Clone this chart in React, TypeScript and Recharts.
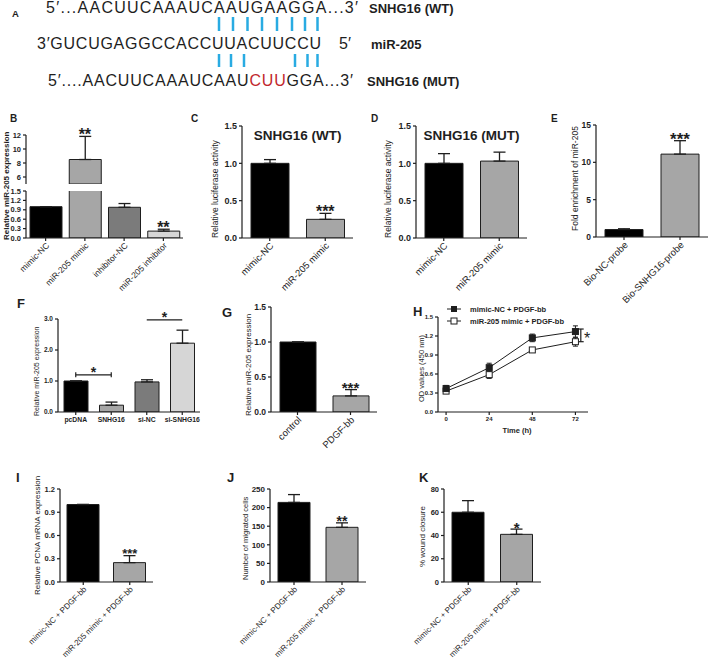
// Multi-panel figure: SNHG16 / miR-205 binding, luciferase, RNA pull-down, proliferation and migration
import React from 'react'
import {
  BarChart,
  Bar,
  Cell,
  ErrorBar,
  XAxis,
  YAxis,
  ReferenceDot,
  ReferenceLine,
  LineChart,
  Line,
} from 'recharts'

const FONT = '"Liberation Sans", Arial, Helvetica, sans-serif'
const INK = '#1e1e1e'
const BLACK = '#000000'
const GRAY = '#a6a6a6'
const DARK = '#7b7b7b'
const LIGHT = '#d6d6d6'
const BLUE = '#29abe2'
const RED = '#c1272d'

// ---- data ----
const bCats = ['mimic-NC', 'miR-205 mimic', 'inhibitor-NC', 'miR-205 inhibitor']
const bMean = [1.0, 8.5, 0.98, 0.22]
const bSem = [0, 3.3, 0.12, 0.06]
const bSig = ['', '**', '', '**']
const bBreak = 5 // upper segment of the broken axis starts here
const bUpperTicks = [6, 8, 10, 12]
const bLowerTicks = [0, 0.3, 0.6, 0.9, 1.2, 1.5]

const lucCats = ['mimic-NC', 'miR-205 mimic']
const cMean = [1.0, 0.25]
const cSem = [0.05, 0.08]
const cSig = ['', '***']
const dMean = [1.0, 1.03]
const dSem = [0.13, 0.12]
const lucTicks = [0, 0.5, 1.0, 1.5]

const eCats = ['Bio-NC-probe', 'Bio-SNHG16-probe']
const eMean = [1.0, 11.1]
const eSem = [0.1, 1.8]
const eSig = ['', '***']
const eTicks = [0, 5, 10, 15]

const fCats = ['pcDNA', 'SNHG16', 'si-NC', 'si-SNHG16']
const fMean = [1.0, 0.22, 0.97, 2.22]
const fSem = [0, 0.1, 0.07, 0.42]
const fPairs: [string, string, number][] = [
  ['pcDNA', 'SNHG16', 1.2],
  ['si-NC', 'si-SNHG16', 2.97],
]
const fTicks = [0, 1, 2, 3]

const gCats = ['control', 'PDGF-bb']
const gMean = [1.0, 0.23]
const gSem = [0, 0.09]
const gSig = ['', '***']
const gTicks = [0, 0.5, 1.0, 1.5]

const hHours = [0, 24, 48, 72]
const hNC = [0.37, 0.7, 1.17, 1.27]
const hNCErr = [0.05, 0.07, 0.06, 0.09]
const hMimic = [0.33, 0.59, 0.98, 1.11]
const hMimicErr = [0.03, 0.06, 0.01, 0.07]
const hYTicks = [0, 0.3, 0.6, 0.9, 1.2, 1.5]
const hBracket = { x: 75, low: 1.11, high: 1.31 }

const pdgfCats = ['mimic-NC + PDGF-bb', 'miR-205 mimic + PDGF-bb']
const iMean = [1.0, 0.25]
const iSem = [0, 0.09]
const iSig = ['', '***']
const iTicks = [0, 0.3, 0.6, 0.9, 1.2]
const jMean = [214, 147]
const jSem = [21, 12]
const jSig = ['', '**']
const jTicks = [0, 50, 100, 150, 200, 250]
const kMean = [60, 41]
const kSem = [10, 4.5]
const kSig = ['', '*']
const kTicks = [0, 20, 40, 60, 80]

type Plot = { x0: number; x1: number; yTop: number; yBot: number }
type Pad = { l: number; t: number; r: number; b: number }

function SlantTick(props: any) {
  const { x, y, payload, fs } = props
  const px = x + 2
  const py = y + 1
  return (
    <text
      x={px}
      y={py}
      textAnchor="end"
      dominantBaseline="central"
      transform={`rotate(-45 ${px} ${py})`}
      fontSize={fs}
      fontFamily={FONT}
      fill={INK}
    >
      {payload.value}
    </text>
  )
}

interface BarPanelProps {
  plot: Plot
  pad: Pad
  cats: string[]
  mean: (number | null)[]
  sem: (number | null)[]
  sig?: string[]
  fills: string[]
  domain: [number, number]
  ticks: number[]
  digits: number
  barSize: number
  tickFs: number
  catFs: number
  slant?: boolean
  hideX?: boolean
  starFs?: number
  children?: React.ReactNode
}

function BarPanel(p: BarPanelProps) {
  const { plot, pad } = p
  const left = plot.x0 - pad.l
  const top = plot.yTop - pad.t
  const width = pad.l + plot.x1 - plot.x0 + pad.r
  const height = pad.t + plot.yBot - plot.yTop + pad.b
  const sfs = p.starFs ?? 16
  const data = p.cats.map((name, i) => ({
    name,
    v: p.mean[i],
    e: p.sem[i] == null ? null : [0, p.sem[i]],
  }))
  const axisStyle = { stroke: INK, strokeWidth: 1.2 }
  return (
    <div style={{ position: 'absolute', left, top, width, height }}>
      <BarChart
        width={width}
        height={height}
        data={data}
        margin={{ top: pad.t, right: pad.r, left: 0, bottom: p.hideX ? pad.b : 0 }}
      >
        <XAxis
          dataKey="name"
          hide={p.hideX}
          height={pad.b}
          interval={0}
          tickSize={3}
          axisLine={axisStyle}
          tickLine={axisStyle}
          tick={
            p.slant
              ? (tp: any) => <SlantTick {...tp} fs={p.catFs} />
              : { fontSize: p.catFs, fill: INK, fontFamily: FONT, fontWeight: 700 }
          }
        />
        <YAxis
          type="number"
          width={pad.l}
          domain={p.domain}
          ticks={p.ticks}
          allowDataOverflow
          interval={0}
          tickSize={3}
          axisLine={axisStyle}
          tickLine={axisStyle}
          tickFormatter={(v: number) => v.toFixed(p.digits)}
          tick={{ fontSize: p.tickFs, fill: INK, fontFamily: FONT, fontWeight: 700 }}
        />
        <Bar dataKey="v" barSize={p.barSize} isAnimationActive={false} stroke={INK} strokeWidth={1}>
          {p.cats.map((c, i) => (
            <Cell key={c} fill={p.fills[i]} />
          ))}
          <ErrorBar dataKey="e" direction="y" width={6} stroke={INK} strokeWidth={1.3} />
        </Bar>
        {(p.sig ?? []).map((s, i) =>
          s ? (
            <ReferenceDot
              key={'sig' + i}
              x={p.cats[i]}
              y={(p.mean[i] ?? 0) + (p.sem[i] ?? 0)}
              r={0}
              ifOverflow="visible"
              shape={(d: any) => (
                <text
                  x={d.cx}
                  y={d.cy - 5 + 0.56 * sfs}
                  textAnchor="middle"
                  fontSize={sfs}
                  fontWeight={700}
                  fontFamily={FONT}
                  fill={INK}
                >
                  {s}
                </text>
              )}
            />
          ) : null
        )}
        {p.children}
      </BarChart>
    </div>
  )
}

function SquareDot(filled: boolean) {
  return (d: any) => (
    <rect
      key={(filled ? 'f' : 'o') + d.index}
      x={d.cx - 3}
      y={d.cy - 3}
      width={6}
      height={6}
      fill={filled ? INK : '#ffffff'}
      stroke={INK}
      strokeWidth={1}
    />
  )
}

function GrowthPanel() {
  const plot = { x0: 438, x1: 588, yTop: 317, yBot: 412 }
  const pad = { l: 18, t: 8, r: 12, b: 28 }
  const left = plot.x0 - pad.l
  const top = plot.yTop - pad.t
  const width = pad.l + plot.x1 - plot.x0 + pad.r
  const height = pad.t + plot.yBot - plot.yTop + pad.b
  const data = hHours.map((t, i) => ({
    t,
    nc: hNC[i],
    ncE: hNCErr[i],
    mi: hMimic[i],
    miE: hMimicErr[i],
  }))
  const axisStyle = { stroke: INK, strokeWidth: 1.2 }
  const seg = { stroke: INK, strokeWidth: 1.2 }
  return (
    <div style={{ position: 'absolute', left, top, width, height }}>
      <LineChart width={width} height={height} data={data} margin={{ top: pad.t, right: pad.r, left: 0, bottom: 0 }}>
        <XAxis
          dataKey="t"
          type="number"
          domain={[-4.5, 79]}
          ticks={hHours}
          allowDataOverflow
          interval={0}
          height={pad.b}
          tickSize={3}
          axisLine={axisStyle}
          tickLine={axisStyle}
          tick={{ fontSize: 6, fill: INK, fontFamily: FONT, fontWeight: 700 }}
        />
        <YAxis
          type="number"
          width={pad.l}
          domain={[0, 1.5]}
          ticks={hYTicks}
          allowDataOverflow
          interval={0}
          tickSize={3}
          axisLine={axisStyle}
          tickLine={axisStyle}
          tickFormatter={(v: number) => v.toFixed(1)}
          tick={{ fontSize: 6, fill: INK, fontFamily: FONT, fontWeight: 700 }}
        />
        <Line dataKey="mi" type="linear" stroke={INK} strokeWidth={1} dot={SquareDot(false)} isAnimationActive={false}>
          <ErrorBar dataKey="miE" direction="y" width={2.5} stroke={INK} strokeWidth={1} />
        </Line>
        <Line dataKey="nc" type="linear" stroke={INK} strokeWidth={1} dot={SquareDot(true)} isAnimationActive={false}>
          <ErrorBar dataKey="ncE" direction="y" width={2.5} stroke={INK} strokeWidth={1} />
        </Line>
        <ReferenceLine segment={[{ x: hBracket.x, y: hBracket.low }, { x: hBracket.x, y: hBracket.high }]} {...seg} />
        <ReferenceLine segment={[{ x: hBracket.x - 1.6, y: hBracket.high }, { x: hBracket.x + 1.6, y: hBracket.high }]} {...seg} />
        <ReferenceLine segment={[{ x: hBracket.x - 1.6, y: hBracket.low }, { x: hBracket.x + 1.6, y: hBracket.low }]} {...seg} />
        <ReferenceDot
          x={78.5}
          y={(hBracket.low + hBracket.high) / 2}
          r={0}
          ifOverflow="visible"
          shape={(d: any) => (
            <text x={d.cx} y={d.cy + 9} textAnchor="middle" fontSize={16} fontFamily={FONT} fill={INK}>
              *
            </text>
          )}
        />
      </LineChart>
    </div>
  )
}

const yTitles = [
  { text: 'Relative miR-205 expression', x: 6, y: 240, fs: 8, w: 700 },
  { text: 'Relative luciferase activity', x: 215, y: 238, fs: 8.5, w: 400 },
  { text: 'Relative luciferase activity', x: 388, y: 238, fs: 8.5, w: 400 },
  { text: 'Fold enrichment of miR-205', x: 575, y: 231, fs: 8.5, w: 400 },
  { text: 'Relative miR-205 expression', x: 37, y: 416, fs: 7, w: 400 },
  { text: 'Relative miR-205 expression', x: 248, y: 416, fs: 8, w: 400 },
  { text: 'OD values (450 nm)', x: 421, y: 402, fs: 7.5, w: 400 },
  { text: 'Relative PCNA mRNA expression', x: 37, y: 595, fs: 8, w: 400 },
  { text: 'Number of migrated cells', x: 245, y: 580, fs: 7.5, w: 400 },
  { text: '% wound closure', x: 422, y: 567, fs: 8, w: 400 },
]

const panelLetters = [
  { t: 'A', x: 12, y: 17, fs: 9.5 },
  { t: 'B', x: 10, y: 122, fs: 10 },
  { t: 'C', x: 191, y: 122, fs: 10 },
  { t: 'D', x: 371, y: 122, fs: 10 },
  { t: 'E', x: 551, y: 122, fs: 10 },
  { t: 'F', x: 17, y: 308, fs: 13 },
  { t: 'G', x: 222, y: 317, fs: 13 },
  { t: 'H', x: 413, y: 316, fs: 13 },
  { t: 'I', x: 16, y: 482, fs: 13 },
  { t: 'J', x: 227, y: 482, fs: 13 },
  { t: 'K', x: 419, y: 482, fs: 13 },
]

// base-pairing ticks of panel A
const pairTop = [219, 233, 247.5, 262, 277, 292, 305, 317.5]
const pairBottom = [219, 231, 244, 295, 307.5, 317.5]

function Overlay() {
  const seqFs = 16
  return (
    <svg
      width={709}
      height={661}
      style={{ position: 'absolute', left: 0, top: 0, pointerEvents: 'none' }}
      fontFamily={FONT}
    >
      {/* panel A */}
      <text x={46} y={12.8} fontSize={seqFs} fill={INK} textLength={312} lengthAdjust="spacing">
        5′...AACUUCAAAUCAAUGAAGGA...3′
      </text>
      <text x={37} y={48.8} fontSize={seqFs} fill={INK} textLength={284} lengthAdjust="spacing">
        3′GUCUGAGGCCACCUUACUUCCU
      </text>
      <text x={339} y={48.8} fontSize={seqFs} fill={INK}>
        5′
      </text>
      <text x={48} y={85.8} fontSize={seqFs} fill={INK} textLength={305} lengthAdjust="spacing">
        5′....AACUUCAAAUCAAU<tspan fill={RED}>CUU</tspan>GGA...3′
      </text>
      <text x={369} y={12.5} fontSize={13} fontWeight={700} fill={INK}>
        SNHG16 (WT)
      </text>
      <text x={371} y={48.5} fontSize={13} fontWeight={700} fill={INK}>
        miR-205
      </text>
      <text x={367} y={85.5} fontSize={13} fontWeight={700} fill={INK}>
        SNHG16 (MUT)
      </text>
      {pairTop.map((x) => (
        <line key={'t' + x} x1={x} x2={x} y1={17} y2={31} stroke={BLUE} strokeWidth={2.5} />
      ))}
      {pairBottom.map((x) => (
        <line key={'b' + x} x1={x} x2={x} y1={54} y2={67} stroke={BLUE} strokeWidth={2.5} />
      ))}

      {/* panel titles */}
      <text x={297.5} y={140} fontSize={13.5} fontWeight={700} fill={INK} textAnchor="middle">
        SNHG16 (WT)
      </text>
      <text x={471.5} y={140} fontSize={13.5} fontWeight={700} fill={INK} textAnchor="middle">
        SNHG16 (MUT)
      </text>

      {/* axis titles */}
      {yTitles.map((t, i) => (
        <text
          key={'y' + i}
          transform={`translate(${t.x} ${t.y}) rotate(-90)`}
          dy={t.fs * 0.35}
          fontSize={t.fs}
          fontWeight={t.w}
          fill={INK}
        >
          {t.text}
        </text>
      ))}
      <text x={517} y={433} fontSize={7.5} fontWeight={700} fill={INK} textAnchor="middle">
        Time (h)
      </text>

      {/* legend of panel H */}
      <line x1={447} x2={461} y1={309} y2={309} stroke={INK} strokeWidth={1} />
      <rect x={451} y={306} width={6} height={6} fill={INK} />
      <text x={470} y={311.7} fontSize={7.5} fontWeight={700} fill={INK}>
        mimic-NC + PDGF-bb
      </text>
      <line x1={447} x2={461} y1={321} y2={321} stroke={INK} strokeWidth={1} />
      <rect x={451} y={318} width={6} height={6} fill="#ffffff" stroke={INK} strokeWidth={1} />
      <text x={470} y={323.7} fontSize={7.5} fontWeight={700} fill={INK}>
        miR-205 mimic + PDGF-bb
      </text>

      {panelLetters.map((l) => (
        <text key={l.t} x={l.x} y={l.y} fontSize={l.fs} fontWeight={700} fill={INK}>
          {l.t}
        </text>
      ))}
    </svg>
  )
}

export default function App() {
  const bUpperMean = bMean.map((v) => (v > bBreak ? v : null))
  const bUpperSem = bMean.map((v, i) => (v > bBreak ? bSem[i] : null))
  const bUpperSig = bSig.map((s, i) => (bMean[i] > bBreak ? s : ''))
  const bLowerSem = bMean.map((v, i) => (v <= 1.5 ? bSem[i] : null))
  const bLowerSig = bSig.map((s, i) => (bMean[i] <= 1.5 ? s : ''))
  const bFills = [BLACK, GRAY, DARK, LIGHT]
  const pair = [BLACK, GRAY]
  const seg = { stroke: INK, strokeWidth: 1.2 }

  return (
    <div style={{ position: 'absolute', left: 0, top: 0, width: 709, height: 661, background: '#fff', fontFamily: FONT }}>
      {/* slanted category labels may run past a chart's own box */}
      <style>{'.recharts-surface { overflow: visible; }'}</style>
      {/* B: broken axis, upper part */}
      <BarPanel
        plot={{ x0: 26, x1: 183, yTop: 135, yBot: 184 }}
        pad={{ l: 26, t: 17, r: 6, b: 0 }}
        hideX
        cats={bCats}
        mean={bUpperMean}
        sem={bUpperSem}
        sig={bUpperSig}
        fills={bFills}
        domain={[bBreak, 12]}
        ticks={bUpperTicks}
        digits={0}
        barSize={32}
        tickFs={7.5}
        catFs={8.5}
        starFs={16}
      />
      {/* B: lower part */}
      <BarPanel
        plot={{ x0: 26, x1: 183, yTop: 191, yBot: 238 }}
        pad={{ l: 26, t: 5, r: 6, b: 64 }}
        slant
        cats={bCats}
        mean={bMean}
        sem={bLowerSem}
        sig={bLowerSig}
        fills={bFills}
        domain={[0, 1.5]}
        ticks={bLowerTicks}
        digits={1}
        barSize={32}
        tickFs={7.5}
        catFs={8.5}
        starFs={16}
      />
      {/* C */}
      <BarPanel
        plot={{ x0: 242, x1: 353, yTop: 126, yBot: 238 }}
        pad={{ l: 30, t: 10, r: 5, b: 62 }}
        slant
        cats={lucCats}
        mean={cMean}
        sem={cSem}
        sig={cSig}
        fills={pair}
        domain={[0, 1.5]}
        ticks={lucTicks}
        digits={1}
        barSize={38}
        tickFs={9}
        catFs={9.5}
        starFs={16}
      />
      {/* D */}
      <BarPanel
        plot={{ x0: 416, x1: 527, yTop: 126, yBot: 238 }}
        pad={{ l: 30, t: 10, r: 5, b: 62 }}
        slant
        cats={lucCats}
        mean={dMean}
        sem={dSem}
        fills={pair}
        domain={[0, 1.5]}
        ticks={lucTicks}
        digits={1}
        barSize={38}
        tickFs={9}
        catFs={9.5}
      />
      {/* E */}
      <BarPanel
        plot={{ x0: 596, x1: 708, yTop: 125, yBot: 237 }}
        pad={{ l: 22, t: 12, r: 1, b: 76 }}
        slant
        cats={eCats}
        mean={eMean}
        sem={eSem}
        sig={eSig}
        fills={pair}
        domain={[0, 15]}
        ticks={eTicks}
        digits={0}
        barSize={38}
        tickFs={8.5}
        catFs={9.5}
        starFs={17}
      />
      {/* F */}
      <BarPanel
        plot={{ x0: 58, x1: 200, yTop: 319, yBot: 412 }}
        pad={{ l: 22, t: 10, r: 8, b: 20 }}
        cats={fCats}
        mean={fMean}
        sem={fSem}
        fills={bFills}
        domain={[0, 3]}
        ticks={fTicks}
        digits={1}
        barSize={24}
        tickFs={6.5}
        catFs={6.8}
      >
        {fPairs.map(([a, b, y]) => (
          <ReferenceLine
            key={a + b}
            segment={[{ x: a, y }, { x: b, y }]}
            {...seg}
            label={{ value: '*', position: 'top', offset: -2, fontSize: 14, fontWeight: 700, fill: INK, fontFamily: FONT }}
          />
        ))}
        {fPairs.flatMap(([a, b, y]) =>
          [a, b].map((c) => (
            <ReferenceLine key={'cap' + c} segment={[{ x: c, y: y - 0.08 }, { x: c, y: y + 0.08 }]} {...seg} />
          ))
        )}
      </BarPanel>
      {/* G */}
      <BarPanel
        plot={{ x0: 271, x1: 377, yTop: 307, yBot: 412 }}
        pad={{ l: 22, t: 8, r: 5, b: 55 }}
        slant
        cats={gCats}
        mean={gMean}
        sem={gSem}
        sig={gSig}
        fills={pair}
        domain={[0, 1.5]}
        ticks={gTicks}
        digits={1}
        barSize={36}
        tickFs={8.5}
        catFs={9.5}
        starFs={15}
      />
      {/* H */}
      <GrowthPanel />
      {/* I */}
      <BarPanel
        plot={{ x0: 60, x1: 153, yTop: 489, yBot: 582 }}
        pad={{ l: 22, t: 8, r: 5, b: 78 }}
        slant
        cats={pdgfCats}
        mean={iMean}
        sem={iSem}
        sig={iSig}
        fills={pair}
        domain={[0, 1.2]}
        ticks={iTicks}
        digits={1}
        barSize={32}
        tickFs={7.5}
        catFs={8}
        starFs={13}
      />
      {/* J */}
      <BarPanel
        plot={{ x0: 270, x1: 366, yTop: 489, yBot: 582 }}
        pad={{ l: 26, t: 8, r: 5, b: 78 }}
        slant
        cats={pdgfCats}
        mean={jMean}
        sem={jSem}
        sig={jSig}
        fills={pair}
        domain={[0, 250]}
        ticks={jTicks}
        digits={0}
        barSize={32}
        tickFs={8}
        catFs={8}
        starFs={14}
      />
      {/* K */}
      <BarPanel
        plot={{ x0: 444, x1: 541, yTop: 489, yBot: 582 }}
        pad={{ l: 22, t: 8, r: 5, b: 78 }}
        slant
        cats={pdgfCats}
        mean={kMean}
        sem={kSem}
        sig={kSig}
        fills={pair}
        domain={[0, 80]}
        ticks={kTicks}
        digits={0}
        barSize={32}
        tickFs={7.5}
        catFs={8}
        starFs={15}
      />
      <Overlay />
    </div>
  )
}
